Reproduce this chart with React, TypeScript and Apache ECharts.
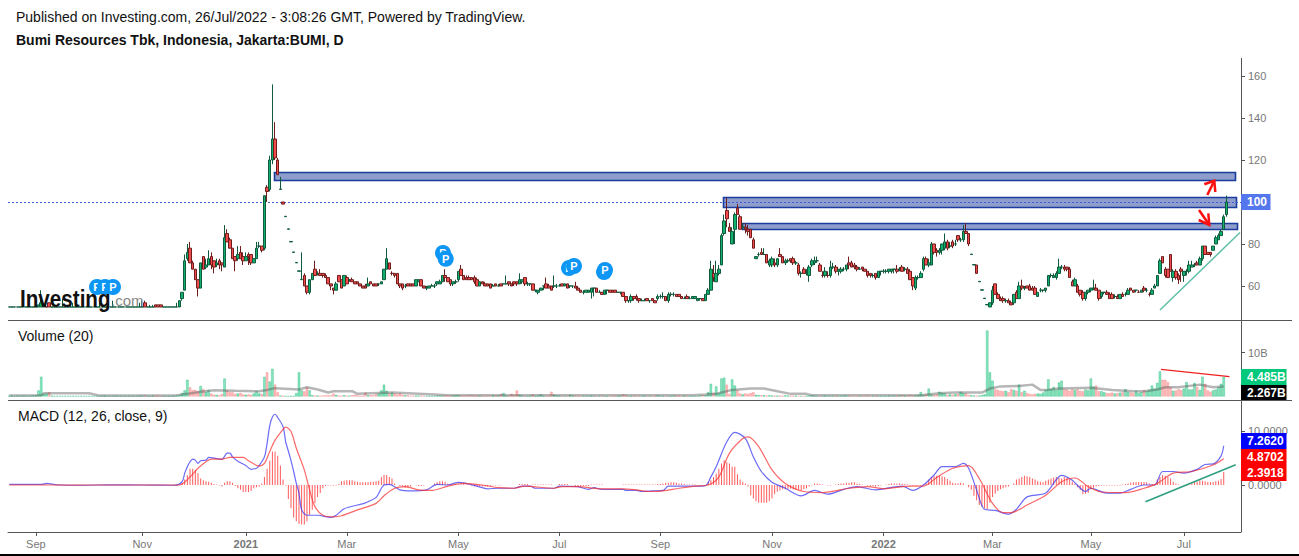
import React, { useEffect, useRef } from "react";
import * as echarts from "echarts";

const F = [50, 50, 50, 50];
// open, close, low, high
const candles2020a = [
  F,F,F,F,F,F,F,F,F,F,F,[50,51,50,51],[50,52,50,58],[50,51,50,52],F,[52,50,50,52],F,F,F,F,
  [50,50,50,54],F,F,[50,50,50,52],[50,50,50,52],[50,50,50,52],F,F,F,F,[50,50,50,52],F,F,F,[50,50,50,52],F,F,F,F,[50,50,50,53],
  F,F,F,F,F,F,F,F,F,[50,50,50,52],[50,50,50,53],[52,50,50,53],F,[50,50,50,51],[50,50,50,51],[51,50,50,51],[51,50,50,51],[51,50,50,51],F,F,
  F,F,F,[50,50,50,52],
];
const candles2020b = [
  [50,53,50,53],[54,57,53,57],[58,72,58,75],[73,76,72,80],[78,71,71,81],[71,68,68,72],[68,63,63,68],[63,59,55,63],[59,71,59,71],[74,68,68,74],
  [69,70,68,73],[70,73,70,77],[74,70,68,76],[72,69,66,72],[70,71,69,73],[72,70,68,73],[71,70,67,71],[69,83,69,89],[85,81,81,87],[82,78,78,83],
  [78,73,73,78],[74,72,67,74],[73,75,72,79],[76,73,73,79],[74,72,70,76],[72,74,72,76],[75,74,70,76],[75,71,70,75],[71,73,71,73],[73,78,73,81],
  [79,79,78,81],[79,77,76,79],[78,103,77,103],[107,105,100,108],[106,120,105,122],[120,130,118,156],[130,121,120,138],[120,113,113,121],[106,106.2,106,112],[100,99,99,100],
  [93,93.2,93,93.2],[87,87.2,87,87.2],[81,81.2,81,81.2],[76,76.2,76,76.2],[71,71.2,71,71.2],[67,67.2,67,67.2],
];
const candles2021a = [
  [63,63.2,63,76],[65,60,60,66],[60,57,56,60],[57,63,56,63],[63,66,63,66],[68,65,65,72],[66,66,65,67],[66,65,65,68],[66,65,64,66],[65,64,64,66],
  [64,61,61,64],[61,60,58,61],[59,58,56,59],[58,61,58,62],[65,62,62,65],[63,59,59,63],[60,65,60,65],[64,61,61,65],[63,63,62,63],[63,62,62,64],
  [62,61,61,62],[62,61,61,62],[61,60,60,61],[60,59,59,60],[60,59,59,61],[60,61,60,64],[62,61,61,62],[61,60,60,61],[61,60,60,61],[61,61,60,61],
  [61,62,61,62],[63,68,63,68],[68,73,68,78],[71,68,68,71],[66,66,65,67],[66,65,64,66],[66,61,61,66],[61,60,59,61],
  [61,59,58,61],[60,60,59,61],[61,60,60,61],[61,60,60,61],[61,60,60,61],[60,63,60,63],[62,63,62,63],[63,60,60,63],[60,59,59,60],[59,59,58,60],
  [59,60,59,60],[60,60,60,61],[60,60,59,61],[61,62,60,62],[61,62,61,63],[62,65,62,65],[65,64,62,68],[64,62,62,64],[63,61,60,63],[61,62,60,62],
  [62,62,61,63],[63,67,62,67],[68,65,65,70],[65,63,63,65],[64,63,63,65],[64,63,63,65],[64,63,63,64],[64,62,61,65],[63,60,60,64],[60,62,60,62],
  [62,61,61,62],[61,60,60,62],[61,60,60,61],[61,59,59,61],[60,60,60,61],[61,60,60,61],[60,60,60,61],[61,60,60,61],[61,61,61,61],[61,61,61,65],
  [62,61,60,62],[61,60,60,61],[62,61,60,62],[62,61,60,62],[61,63,61,66],[62,63,61,63],[64,61,60,64],[61,61,60,62],[61,61,60,61],[61,58,58,61],
];
const candles2021b = [
  [58,58,57,58],[57,58,56,58],[58,59,58,59],[60,60,58,60],[61,59,59,64],[60,59,59,61],[60,58,58,60],[60,60,59,65],[60,60,59,61],[60,60,60,61],
  [61,60,60,61],[60,61,60,61],[61,59,59,61],[60,60,59,60],[60,60,59,60],[60,59,59,62],[59,58,58,60],[58,57,57,58],[57,57,56,58],[57,58,57,58],
  [57,58,57,58],[57,59,54,59],[59,59,55,59],[59,57,57,59],[57,57,57,58],[57,56,56,57],[56,58,56,58],[58,58,56,58],[58,57,57,58],[58,57,57,58],
  [58,57,57,58],[57,57,57,57],[57,57,56,57],[57,55,55,57],[55,53,52,55],[53,53,52,53],[53,55,52,56],[55,54,53,55],[55,54,53,56],[54,53,52,54],
  [53,53,53,54],[53,53,53,54],[54,53,53,54],[53,53,52,53],[54,53,53,54],[53,52,52,53],[54,55,53,56],[55,55,54,56],[55,55,54,57],[55,53,53,55],
  [53,56,52,57],[56,56,55,57],[56,56,55,57],[56,55,55,56],[56,55,55,56],[55,54,54,55],[54,54,54,55],[55,54,54,56],[54,54,54,55],[54,55,54,55],
  [54,55,54,55],[53,54,53,54],[54,54,53,54],[54,53,53,54],[53,56,53,56],[56,58,56,59],[58,68,58,72],[66,64,62,70],[62,66,62,72],[66,68,65,70],
  [70,84,70,85],[85,91,84,94],[96,92,88,102],[88,86,86,90],[80,86,80,88],[87,94,80,95],[97,94,94,99],[93,87,87,94],[88,88,87,90],[88,87,85,90],
  [87,86,84,89],[87,83,83,87],[82,78,78,83],[73,74,73,74],[75,75,74,76],[76,75,75,78],[75,75,75,78],[75,71,71,75],[70,72,69,73],[70,73,69,74],
  [71,70,69,73],[70,73,69,73],[75,74,74,78],[74,71,71,74],[71,72,70,73],[72,72,71,73],[73,72,71,73],[73,71,70,74],[71,71,70,72],[70,66,65,71],
  [66,66,64,67],
];
const candles2022a = [
  [68,66,66,69],[66,66,65,68],[65,69,62,70],[70,72,69,73],[71,72,70,74],[72,72,71,74],[70,67,67,71],[65,65,64,67],[65,67,64,69],[65,65,64,67],
  [65,69,64,72],[69,69,68,71],[69,67,66,70],[67,68,65,68],[67,68,66,69],[68,68,67,69],[68,70,67,70],[71,70,68,74],[71,69,69,72],[70,69,68,71],
  [69,68,67,70],[68,68,68,69],[69,68,67,69],[68,67,67,68],[67,65,64,67],[66,65,64,66],[65,65,64,66],[66,64,63,66],[64,67,64,67],[67,67,65,67],
  [67,67,66,68],[67,67,66,68],[67,68,66,68],[67,68,66,68],[68,68,66,68],[68,67,66,70],[68,68,67,69],[69,67,67,70],[68,68,67,69],[68,66,66,69],
  [67,63,63,68],[64,60,58,64],[59,64,58,65],[64,64,63,65],[64,66,64,67],[68,73,67,74],[73,70,70,74],[70,71,69,73],[70,80,70,81],[80,76,75,80],
  [77,76,74,78],[76,77,75,78],[77,80,75,80],[78,81,77,85],[81,78,77,82],[79,79,78,81],[81,79,78,82],[80,80,79,82],[84,82,81,84],[82,82,81,83],
  [82,86,81,89],[86,85,85,90],[85,80,79,85],[75,75.2,75,75.2],[70,70.2,70,70.2],[70,66,66,70],[62,62.2,62,62.2],[58,58.2,58,58.2],[54,54.2,54,54.2],[51,51.2,51,51.2],
  [50,52,50,52],[52,58,51,60],
];
const candles2022b = [
  [61,56,56,61],[56,54,54,57],[54,53,53,55],[54,53,52,55],[53,53,52,54],[53,52,52,54],[52,51,51,53],[52,56,51,56],[57,54,54,58],[54,60,54,62],
  [60,59,58,63],[59,59,58,60],[60,59,59,60],[60,58,58,61],[59,58,58,60],[59,56,56,60],[55,57,55,57],[58,58,57,59],[58,58,57,58],[58,59,57,59],
  [60,65,60,65],[65,65,64,66],[64,65,64,66],[64,66,63,67],[66,69,66,73],[69,69,68,70],[69,68,67,70],[69,68,67,69],[68,64,64,69],[62,60,60,63],
  [60,63,60,64],[60,57,57,61],[58,56,55,58],[57,54,53,58],[54,57,53,57],[57,58,56,58],[58,59,57,59],[59,59,58,63],[59,58,58,61],[58,54,53,58],
  [55,57,54,57],[57,57,56,57],[57,56,56,58],[56,54,54,57],[56,54,54,57],[55,55,54,56],[55,54,54,56],[54,56,54,56],[56,55,55,57],[56,56,55,57],
  [56,58,56,59],[59,58,58,59],[58,57,57,58],[58,58,57,58],[57,57,57,58],[57,58,57,58],[59,58,57,60],[58,58,57,59],[56,56,55,57],[56,58,56,59],
  [59,60,59,61],[60,65,60,65],[66,72,66,73],[74,71,71,74],[68,65,64,69],[68,64,64,68],[75,67,67,75],[64,67,62,68],[67,64,63,68],[65,63,61,66],
  [68,67,62,69],[65,67,62,67],[67,67,65,68],[67,70,66,72],[69,70,69,72],[70,70,69,71],[71,70,70,72],[70,73,70,74],[73,79,72,79],[79,75,75,79],
  [76,75,75,76],[76,75,74,76],[77,79,77,79],[80,83,80,84],[82,84,82,85],[84,86,84,87],[87,93,87,94],[94,100,93,103],
];
const candles = [...candles2020a, ...candles2020b, ...candles2021a, ...candles2021b, ...candles2022a, ...candles2022b];

const volumes = [
  .2,.2,.1,.2,.1,.2,.2,.1,.2,.2, .3,1.4,4.5,.6,.7,1,.2,.1,.1,.1, .1,.1,.1,.1,.1,.1,.1,.1,.1,.1, .1,.1,.1,.1,.1,.2,.2,.1,.1,.1,
  .2,.1,.1,.1,.1,.1,.1,.1,.1,.2, .2,.3,.1,.1,.2,.2,.2,.1,.1,.1, .1,.1,.2,.2,.3,.8,1.4,3.8,2.1,1.5, 1.5,1.2,2.4,1.7,1,1.5,.7,.4,.4,.3,
  .6,4.1,1.4,1,1,.6,.7,.8,.5,.4, .5,.4,.7,1.2,.7,.6,4.5,5.5,3.4,6.3, 2.7,1,.2,.2,.1,.1,.1,.1,.8,5.5, 1.4,1.2,2.1,1.4,.3,.2,.2,.2,.2,.3,
  .3,.3,.7,.4,.2,.2,.3,.2,.2,.3, .4,.3,.2,.2,.9,.3,.3,.3,.5,.7, 1.4,2.7,1.3,.7,.9,.7,.5,.7,.4,.3, .3,.2,.2,.2,.2,.2,.1,.1,.1,.1,
  .1,.2,.2,.2,.3,.2,.2,.2,.3,.3, .2,.2,.2,.2,.3,.2,.2,.2,.2,.1, .2,.1,.3,.2,.2,.6,.8,.2,.2,.6, .3,1.4,.4,.2,.1,.1,.2,.5,.2,.2,
  .5,.2,.1,.2,1.1,.4,.2,.2,.1,.1, .1,.4,.2,.2,.1,.1,.1,.1,.1,.2, .1,.1,.1,.2,.1,.1,.1,.2,.2,.2, .2,.5,.3,.1,.1,.2,.1,.1,.1,.2,
  .1,.1,.1,.2,.3,.1,.1,.1,.1,.1, .2,.2,.2,.1,.2,.1,.1,.1,.1,.1, .2,.3,.3,1,2.9,.8,2.3,.8,4.1,4.3, 2.7,.6,3.9,2.5,1.4,.7,.5,.7,.6,.8,
  1,.4,.3,.3,.3,.2,.3,.2,.2,.2, .2,.2,.3,.2,.2,.2,.2,.1,.1,.1, .2,.2,.3,.2,.1,.1,.1,.2,.1,.1, .1,.2,.1,.1,.2,.2,.2,.1,.1,.1,
  .1,.2,.1,.2,.1,.1,.2,.1,.1,.1, .1,.2,.1,.2,.2,.2,.3,.2,.2,.3, .2,.2,.3,1,.3,.5,1.8,.5,.4,.5, 1.1,.8,.7,.4,.5,.4,.6,.6,1.1,.8,
  .7,.4,.3,.2,.2,.2,.3,.5,15,5.5, 3.6,1.7,1.5,1.3,1.2,1.3,1,1.7,1.5,1.3, 2.7,1,1.3,.8,.6,.5,.6,.7,.6,.9, 1.5,3.9,1.7,2.2,1.5,3.2,3.6,1.7,1.6,1.3,
  1.7,1.5,1.7,1.3,1.2,1.6,1.4,4.1,2.3,2.5, 1.2,1.2,1,.8,.8,.9,.7,.8,.9,1, 1.7,1,.9,.8,1.2,.8,1,1.4,1.2,1.5, 2.5,1.8,3.1,5.7,3.8,3.8,3.3,2.1,1.3,1.4,
  1.7,1.5,1.8,3.3,1.6,1.6,3.1,2.2,1.5,4.5, 2.9,1.4,1.1,1.4,1.6,2.1,2.9,4.485,
];
const volumeAverage = [
  [0,.2],[12,.3],[13,.75],[22,.75],[30,.75],[34,.2],[50,.2],[62,.2],[67,.6],[72,1.1],[77,1.4],[85,1.3],[94,1.2],[97,1.5],[100,1.9],[109,1.6],[112,2.1],[116,1.6],[120,.9],[122,1.2],
  [129,1.2],[131,.6],[144,.9],[160,.45],[165,.3],[257,.3],[262,.45],[266,.6],[272,1.5],[279,1.8],[284,1.8],[289,1.2],[294,.6],[300,.6],[302,.3],[343,.3],[350,.75],[356,.9],[366,.9],
  [369,1.8],[373,2.3],[380,2.4],[385,2.7],[388,1.5],[390,1.45],[395,1.8],[407,2],[415,1.5],[423,1.2],[427,1.2],[432,1.6],[435,2.1],[440,2.1],[448,2.7],[453,2.1],[457,2.27],
];
const macdLine = [
  [0,.1],[12,.1],[14,.3],[18,.05],[28,-.05],[37,.05],[50,0],[62,-.05],[65,.6],[66,2.2],[67,3.4],[68,4.3],[69,4.8],[70,4.6],[71,4],[72,4.5],[74,4.6],[75,5.1],[78,4.9],[80,4.75],
  [82,5.9],[83,5.9],[84,5.2],[86,4.4],[89,3.6],[91,2.9],[93,3.1],[94,3.6],[96,5.2],[97,7.7],[98,11],[99,12.6],[100,13.1],[101,12.5],[103,10.8],[104,8],[105,6.3],[106,4.5],[107,2.5],[108,.3],
  [109,-1.5],[110,-4.6],[112,-5.6],[116,-5.6],[121,-6],[123,-5.6],[126,-4.4],[131,-3.7],[134,-3.3],[138,-2.3],[141,0],[143,.1],[147,-.9],[151,-1.1],[157,-.9],[161,.1],[165,0],[169,.5],[171,.4],[176,-.2],
  [180,-.7],[184,-.6],[190,-.6],[193,-.2],[196,-.2],[198,-.6],[205,-.6],[207,-.2],[214,-.3],[218,-.8],[220,-.5],[223,-.8],[231,-.8],[232,-1],[236,-1],[238,-1.2],[242,-1.1],[246,-1],[248,-.2],[258,-.2],
  [262,-.1],[264,1.5],[266,3.4],[270,8],[273,9.75],[277,8.6],[280,5.2],[283,2.5],[287,.5],[292,-.6],[298,-2],[303,-1],[308,-1.7],[314,-.8],[319,-.3],[326,-.9],[336,-.2],[340,-1],[344,0],[348,1.85],
  [351,3.4],[356,3.4],[359,4],[361,3.1],[364,-.9],[367,-4.5],[371,-4.7],[376,-5.4],[379,-4.5],[383,-2.2],[390,-1.5],[396,1.8],[400,.9],[405,-1.2],[407,-.6],[413,-1.5],[418,-1.5],[422,-.8],[427,0],[431,0],
  [434,2.5],[438,2.5],[442,2.2],[447,2.9],[450,3.8],[453,3.9],[456,5.4],[457,7.26],
];
const signalLine = [
  [0,0],[64,0],[68,1.5],[71,3.1],[74,4.3],[76,4.8],[80,4.8],[83,5.1],[88,5.1],[90,4.5],[94,3.5],[96,4],[98,6.2],[100,8.3],[103,10.3],[104,10.7],[106,9.9],[108,6.8],[111,2.8],[113,-.9],
  [115,-4],[118,-5.6],[122,-5.9],[125,-5.7],[131,-4.6],[138,-3.4],[141,-2],[145,-.6],[149,-.3],[154,-.9],[159,-1],[165,-.2],[171,.3],[178,0],[184,-.5],[190,-.6],[194,-.2],[197,-.3],[205,-.6],[208,-.3],
  [214,-.3],[222,-.7],[231,-.7],[236,-.9],[241,-1.2],[246,-1.1],[252,-.6],[258,-.2],[263,0],[267,1.5],[271,5.9],[276,8.6],[278,8.9],[282,7.1],[287,2.8],[292,.3],[299,-1.2],[306,-1.4],[316,-.6],[323,-.3],
  [329,-.7],[339,-.2],[344,-.2],[349,1.4],[355,3.1],[361,3.6],[365,1.2],[370,-3.4],[374,-5.1],[377,-5.1],[383,-3.7],[390,-1.9],[396,.6],[401,1.3],[406,-.3],[411,-1.3],[420,-1.4],[427,-.6],[432,.3],[438,2.2],
  [445,2.5],[453,3.7],[457,4.87],
];
const histogram = [
  0,0,0,0,0,0,0,0,0,0, 0,0,.1,.1,.1,0,0,0,-.1,-.1, -.1,-.1,-.1,-.1,-.1,-.1,-.1,-.1,0,0, 0,0,0,0,0,0,0,0,0,0,
  0,0,0,0,0,0,0,0,0,0, 0,0,0,0,0,0,0,0,0,0, 0,0,-.1,-.1,0,.4,1,1.8,3,3, 2.8,2.2,1.2,.9,.7,.6,.4,.2,.1,-.1,
  -.3,.4,.7,.7,.4,-.2,-.6,-.9,-1.3,-1.3, -1.3,-1.1,-.6,-.4,-.3,.3,1.5,3,4.5,6.2, 6.2,5.4,3.6,1,-.1,-2.6,-4.3,-6,-6.7,-7.2, -7.3,-7.3,-6.7,-5.5,-4.6,-3.4,-2.2,-1.5,-.6,-.2,
  -.1,-.1,-.1,-.1,.2,.7,.8,.9,.9,.9, .7,.6,.5,.5,.5,.5,.6,.6,.7,.8, 1.5,1.85,1.85,1.5,1.2,.3,0,-.2,-.3,-.5, -.5,-.3,0,0,-.2,-.2,-.1,0,0,0,
  .3,.5,.7,.7,.6,.3,.2,.1,.1,.1, .1,.2,.1,0,-.1,-.3,-.3,-.3,-.3,-.3, -.3,-.2,-.1,-.1,-.1,-.1,0,0,0,0, 0,0,.2,.2,.2,.2,0,.1,.1,.1,
  .1,.1,.1,.1,.1,0,0,.2,.2,.2, .2,0,0,-.2,-.2,-.2,-.2,-.2,-.2,.1, .1,.1,.1,.1,0,0,0,0,0,0, 0,.1,.1,.1,.1,.1,.1,.1,.1,.1,
  .1,.1,.1,.1,.2,.2,.3,.4,.4,.5, .5,.4,.3,.3,.2,.1,.1,.1,.1,0, 0,0,0,.5,.9,1.5,2.1,3,4,4.6, 4.2,4,3.4,3.4,2,1,.6,.3,-.3,-1.9,
  -2.5,-3,-3.3,-3.3,-3.3,-3.3,-3,-2.5,-1.7,-1.2, -1,-.8,-.8,-.7,-.7,-.8,-.9,-.9,-1,-.8, -.6,-.3,-.1,.3,.3,.2,.1,0,-.1,-.1, 0,.1,.2,.3,.3,.4,.4,.5,.5,.3,
  .2,.1,0,-.1,-.2,-.2,-.3,-.2,-.1,0, .1,.2,.3,.3,.3,.3,.25,.2,.1,-.1, -.1,-.1,-.1,-.1,.1,.3,1,1.5,1.6,1.7, 1.7,1.6,1.5,1.1,.8,.4,.3,.3,.4,.3,
  0,-.4,-.9,-2,-2.8,-3.7,-4,-4.3,-4.5,-3.3, -2.2,-1.6,-1.1,-.8,-.6,-.4,-.3,0,.3,1, 1.2,1.5,1.7,1.6,1.5,1.2,1,.7,.6,.5, .8,1,1.2,1.4,1.5,1.3,1.2,1.5,1.3,1,
  .6,.3,-.4,-.9,-1.7,-1.6,-1.5,-.8,-.5,-.3, -.2,-.1,-.1,-.1,-.1,-.1,-.1,-.1,-.1,.1, .2,.3,.4,.5,.55,.55,.55,.55,.5,.3, .2,.2,1,1.5,1.85,1.7,1.5,1.2,.6,.3,
  .1,0,-.1,-.2,.1,.3,.5,.6,.9,.8, .7,.55,.55,.55,.7,.8,1.1,2.39,
];
const monthTicks: Record<number, string> = { 10: "Sep", 50: "Nov", 89: "2021", 127: "Mar", 169: "May", 207: "Jul", 245: "Sep", 287: "Nov", 329: "2022", 370: "Mar", 407: "May", 442: "Jul" };
const categories = Array.from({ length: 464 }, (_, i) => monthTicks[i] || "");
const priceTicks = [60, 80, 100, 120, 140, 160];

const FONT = '"Liberation Sans", Arial, sans-serif';
const GREY = "#777777";
const ZONE = { fill: "#8E9DCC", stroke: "#1A3C9C", lineWidth: 1.6 };
const pBadges = [[97, 287], [105, 287], [113, 287], [443, 253], [445.7, 258.7], [569, 268], [574, 266], [604, 272], [605, 270]];

function txt(text: string, x: number, y: number, font: string, fill: string, extra: any = {}) {
  return { type: "text", z: 100, style: { text, x, y, font, fill, textVerticalAlign: "middle", ...extra } };
}
function seg(points: number[][], stroke: string, lineWidth = 1, z = 100) {
  return { type: "polyline", z, shape: { points }, style: { stroke, lineWidth, fill: "none" }, silent: true };
}
function box(x: number, y: number, w: number, h: number, fill: string, label: string) {
  return [
    { type: "rect", z: 110, shape: { x, y, width: w, height: h }, style: { fill } },
    { type: "text", z: 111, style: { text: label, x: x + 6, y: y + h / 2, font: `bold 12px ${FONT}`, fill: "#fff", textVerticalAlign: "middle" } },
  ];
}

export default function App() {
  const ref = useRef<HTMLDivElement>(null);
  useEffect(() => {
    document.body.style.margin = "0";
    const chart = echarts.init(ref.current!, null, { renderer: "svg" });
    const axisText = { color: GREY, fontSize: 11, fontFamily: FONT, margin: 7 };
    const tick = { show: true, length: 4, lineStyle: { color: "#555" } };
    const graphic = [
      txt("Published on Investing.com, 26/Jul/2022 - 3:08:26 GMT, Powered by TradingView.", 16, 17, `14px ${FONT}`, "#111"),
      txt("Bumi Resources Tbk, Indonesia, Jakarta:BUMI, D", 16, 40, `bold 14px ${FONT}`, "#111"),
      txt("Volume (20)", 18, 336, `14px ${FONT}`, "#111"),
      txt("MACD (12, 26, close, 9)", 18, 416, `14px ${FONT}`, "#111"),
      { type: "rect", z: 1, shape: { x: 274.5, y: 172.5, width: 961, height: 8 }, style: ZONE },
      { type: "rect", z: 1, shape: { x: 723.5, y: 197.5, width: 513, height: 10 }, style: ZONE },
      { type: "rect", z: 1, shape: { x: 742.5, y: 223.5, width: 495, height: 6 }, style: ZONE },
      seg([[8, 320.5], [1292, 320.5]], "#555"),
      seg([[8, 400.5], [1292, 400.5]], "#555"),
      seg([[1241.5, 58], [1241.5, 532]], "#555"),
      { type: "rect", z: 100, shape: { x: 0, y: 554, width: 1299, height: 2 }, style: { fill: "#000" } },
      seg([[1160, 310], [1240, 232.5]], "#5FBFA8", 1.5),
      seg([[1145.5, 501.7], [1235.7, 464.7]], "#2E9E80", 1.5),
      seg([[1161, 369.3], [1229.5, 376.7]], "#F02020", 1.2),
      seg([[1207.3, 195], [1214.3, 180.7]], "#FF1010", 2.5),
      seg([[1204.3, 184.3], [1214.3, 180.7], [1215.3, 192]], "#FF1010", 2.5),
      seg([[1199, 210], [1209.3, 225]], "#FF1010", 2.5),
      seg([[1198.7, 220], [1209.3, 225], [1208.3, 213.3]], "#FF1010", 2.5),
      ...pBadges.flatMap(([x, y], i) => [
        { type: "circle", z: 60 + i * 2, shape: { cx: x, cy: y, r: 8 }, style: { fill: "#0E96F5" } },
        { type: "text", z: 61 + i * 2, style: { text: "P", x, y, font: `bold 11px ${FONT}`, fill: "#fff", textAlign: "center", textVerticalAlign: "middle" } },
      ]),
      { type: "text", z: 90, x: 20, y: 311, scaleX: 0.86, silent: true, style: { text: "Investing", x: 0, y: 0, font: `bold 24px ${FONT}`, fill: "#111", textVerticalAlign: "bottom" } },
      { type: "text", z: 90, silent: true, style: { text: ".com", x: 111, y: 308, font: `15px ${FONT}`, fill: "#888", textVerticalAlign: "bottom" } },
      ...box(1241, 194, 29.5, 16, "#5577EE", "100"),
      ...box(1241, 369, 45.5, 16, "#00C97C", "4.485B"),
      ...box(1241, 385, 45.5, 15, "#000000", "2.267B"),
      ...box(1241, 433, 45.5, 16, "#0000FF", "7.2620"),
      ...box(1241, 449, 45.5, 16, "#FF0000", "4.8702"),
      ...box(1241, 465, 45.5, 16, "#FF0000", "2.3918"),
    ];
    chart.setOption({
      animation: false,
      backgroundColor: "#fff",
      graphic: { elements: graphic },
      grid: [
        { left: 8, top: 57, width: 1233, height: 263 },
        { left: 8, top: 321, width: 1233, height: 75.5 },
        { left: 8, top: 401, width: 1233, height: 131 },
      ],
      xAxis: [
        { type: "category", gridIndex: 0, data: categories, show: false },
        { type: "category", gridIndex: 1, data: categories, show: false },
        {
          type: "category", gridIndex: 2, data: categories, position: "bottom",
          axisLine: { show: true, onZero: false, lineStyle: { color: "#555" } },
          axisTick: { show: true, alignWithLabel: true, length: 4, lineStyle: { color: "#555" }, interval: (i: number) => !!monthTicks[i] },
          axisLabel: {
            interval: (i: number) => !!monthTicks[i], color: GREY, fontSize: 11, fontFamily: FONT, margin: 6, hideOverlap: false,
            formatter: (v: string) => (v.startsWith("20") ? `{b|${v}}` : v),
            rich: { b: { fontWeight: "bold", color: GREY, fontSize: 11, fontFamily: FONT } },
          },
          splitLine: { show: false },
        },
      ],
      yAxis: [
        {
          type: "value", gridIndex: 0, position: "right", min: 43.8, max: 169.05,
          axisLine: { show: false }, splitLine: { show: false },
          axisTick: { ...tick, customValues: priceTicks }, axisLabel: { ...axisText, customValues: priceTicks },
        },
        {
          type: "value", gridIndex: 1, position: "right", min: 0, max: 17.16,
          axisLine: { show: false }, splitLine: { show: false },
          axisTick: { ...tick, customValues: [10] }, axisLabel: { ...axisText, customValues: [10], formatter: (v: number) => `${v}B` },
        },
        {
          type: "value", gridIndex: 2, position: "right", min: -8.7, max: 15.55,
          axisLine: { show: false }, splitLine: { show: false },
          axisTick: { ...tick, customValues: [0, 10] }, axisLabel: { ...axisText, customValues: [0, 10], formatter: (v: number) => v.toFixed(4) },
        },
      ],
      series: [
        {
          type: "candlestick", xAxisIndex: 0, yAxisIndex: 0, z: 10, barWidth: 3, data: candles,
          itemStyle: { color: "#12B06E", color0: "#F24B4B", borderColor: "#0F5A3C", borderColor0: "#6E1C1C", borderWidth: 1 },
          markLine: {
            silent: true, symbol: "none", label: { show: false },
            lineStyle: { color: "#3F5FD8", type: [2, 2], width: 1 }, data: [{ yAxis: 100 }],
          },
        },
        {
          type: "bar", xAxisIndex: 1, yAxisIndex: 1, barWidth: 2.5, z: 5,
          data: volumes.map((v, i) => ({
            value: v,
            itemStyle: candles[i] && candles[i][1] >= candles[i][0]
              ? { color: "rgba(20,205,130,.5)", borderColor: "rgba(10,170,105,.6)", borderWidth: .5 }
              : { color: "rgba(255,90,90,.42)", borderColor: "rgba(240,110,110,.5)", borderWidth: .5 },
          })),
        },
        {
          type: "line", xAxisIndex: 1, yAxisIndex: 1, z: 6, data: volumeAverage, showSymbol: false, symbol: "none",
          lineStyle: { color: "rgba(80,80,80,.42)", width: 2.5 },
        },
        {
          type: "bar", xAxisIndex: 2, yAxisIndex: 2, barWidth: 1, z: 5, data: histogram,
          itemStyle: { color: "#FF5A5A" },
        },
        {
          type: "line", xAxisIndex: 2, yAxisIndex: 2, z: 7, data: macdLine, symbol: "none", smooth: .3,
          lineStyle: { color: "rgba(50,50,245,.72)", width: 1.2 },
        },
        {
          type: "line", xAxisIndex: 2, yAxisIndex: 2, z: 8, data: signalLine, symbol: "none", smooth: .3,
          lineStyle: { color: "rgba(250,45,45,.72)", width: 1.2 },
        },
      ],
    });
    return () => chart.dispose();
  }, []);
  return <div ref={ref} style={{ position: "absolute", left: 0, top: 0, width: 1299, height: 556, overflow: "hidden" }} />;
}
